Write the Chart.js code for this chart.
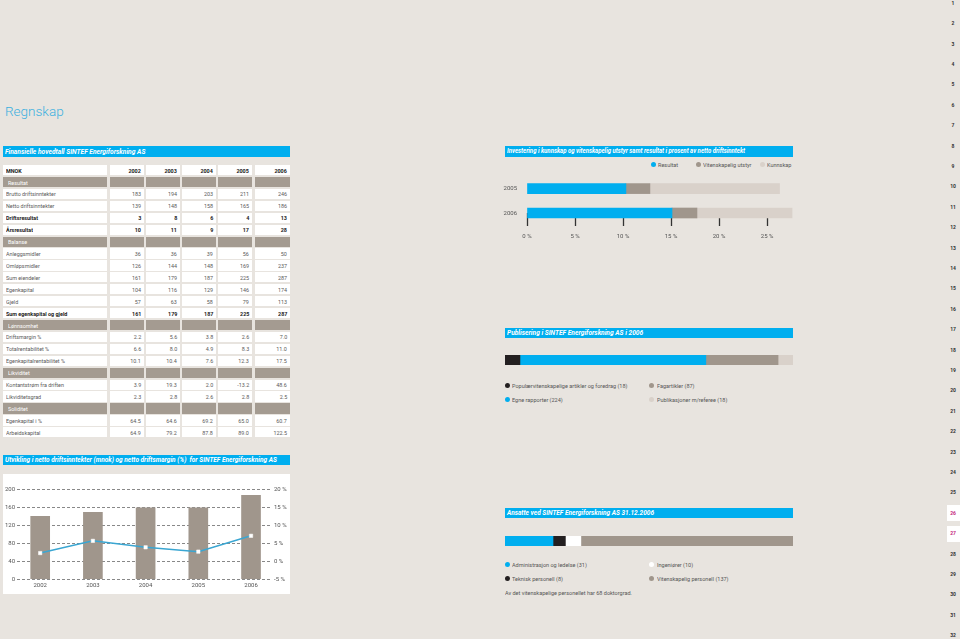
<!DOCTYPE html>
<html><head><meta charset="utf-8">
<script src="https://cdn.jsdelivr.net/npm/chart.js@4"></script>
<style>
html,body{margin:0;padding:0;background:#e8e4df;}
#page{position:relative;width:960px;height:639px;overflow:hidden;font-family:Roboto,"Open Sans",sans-serif;color:#555;background:#e8e4df;}
.abs{position:absolute;}
.t{display:inline-block;white-space:nowrap;transform-origin:left center;}
.tr{transform-origin:right center;}
.bluebar{position:absolute;background:#00aeef;color:#fff;font-style:italic;font-weight:bold;font-size:7px;box-sizing:border-box;padding-left:2px;display:flex;align-items:center;overflow:hidden;white-space:nowrap;}
.cell{position:absolute;background:#fff;font-size:6px;box-sizing:border-box;white-space:nowrap;display:flex;align-items:center;overflow:visible;color:#5a5a5a;}
.cell.sec{background:#a49b91;color:#fff;}
.cell.num{justify-content:flex-end;padding-right:3px;}
.cell.lab{padding-left:3px;}
.cell.b{color:#222;font-weight:bold;}
.leg{position:absolute;font-size:6px;color:#555;display:flex;align-items:center;white-space:nowrap;}
.dot{position:absolute;width:5px;height:5px;border-radius:50%;}
.pn{position:absolute;font-size:5px;font-weight:bold;color:#333;width:14px;text-align:center;left:946px;}
canvas{position:absolute;}
#title{position:absolute;left:5px;top:103px;font-size:13.5px;font-weight:300;color:#3ab0e0;}
</style></head>
<body><div id="page">
<div id="title">Regnskap</div>
<div class="abs" style="left:3px;top:474px;width:287px;height:120px;background:#fff;"></div>
<canvas id="c1" width="287" height="120" style="left:3px;top:474px;"></canvas>
<canvas id="c2" width="296" height="70" style="left:500px;top:175px;"></canvas>
<canvas id="c3" width="288" height="10" style="left:505px;top:355px;"></canvas>
<canvas id="c4" width="288" height="10" style="left:505px;top:535.5px;"></canvas>
</div>
<script>
// ---------- data ----------
const tableYears = ['2002','2003','2004','2005','2006'];
const resultatLabels = ['Brutto driftsinntekter','Netto driftsinntekter','Driftsresultat','Årsresultat'];
const resultatValues = [['183','194','203','211','246'],['139','148','158','165','186'],['3','8','6','4','13'],['10','11','9','17','28']];
const balanseLabels = ['Anleggsmidler','Omløpsmidler','Sum eiendeler','Egenkapital','Gjeld','Sum egenkapital og gjeld'];
const balanseValues = [['36','36','39','56','50'],['126','144','148','169','237'],['161','179','187','225','287'],['104','116','129','146','174'],['57','63','58','79','113'],['161','179','187','225','287']];
const lonnLabels = ['Driftsmargin %','Totalrentabilitet %','Egenkapitalrentabilitet %'];
const lonnValues = [['2.2','5.6','3.8','2.6','7.0'],['6.6','8.0','4.9','8.3','11.0'],['10.1','10.4','7.6','12.3','17.5']];
const likvLabels = ['Kontantstrøm fra driften','Likviditetsgrad'];
const likvValues = [['3.9','19.3','2.0','-13.2','48.6'],['2.3','2.8','2.6','2.8','2.5']];
const solLabels = ['Egenkapital i %','Arbeidskapital'];
const solValues = [['64.5','64.6','69.2','65.0','60.7'],['64.9','79.2','87.8','89.0','122.5']];
const sectionNames = ['Resultat','Balanse','Lønnsomhet','Likviditet','Soliditet'];
const boldRows = ['Driftsresultat','Årsresultat','Sum egenkapital og gjeld'];

const devYears = ['2002','2003','2004','2005','2006'];
const nettoInntekter = [139,148,158,158,186];
const driftsmargin = [2.2,5.6,3.8,2.6,7.0];

const invYears = ['2005','2006'];
const invResultat = [10.3,15.1];
const invUtstyr = [2.5,2.6];
const invKunnskap = [13.5,9.9];
const invTicks = [0,5,10,15,20,25];

const pubLabels = ['Populærvitenskapelige artikler og foredrag','Egne rapporter','Fagartikler','Publikasjoner m/referee'];
const pubValues = [18,224,87,18];
const ansLabels = ['Administrasjon og ledelse','Teknisk personell','Ingeniører','Vitenskapelig personell'];
const ansValues = [31,8,10,137];

const COL = {blue:'#00aeef', gray:'#a0968c', light:'#d9d1ca', black:'#231f20', white:'#ffffff'};
const page = document.getElementById('page');

function add(html){ page.insertAdjacentHTML('beforeend', html); }
function blueBar(x,y,w,h,text,sc){ add(`<div class="bluebar" style="left:${x}px;top:${y}px;width:${w}px;height:${h}px;"><span class="t" style="transform:scaleX(${sc})">${text}</span></div>`); }

// ---------- table ----------
blueBar(3,146,287,11,'Finansielle hovedtall SINTEF Energiforskning AS',0.95);
const colX = [[3,104],[110,34],[146,34],[182,34],[218,34],[255,35]];
const rows = [];
rows.push({type:'head', label:'MNOK', vals:tableYears});
const groups = [[resultatLabels,resultatValues],[balanseLabels,balanseValues],[lonnLabels,lonnValues],[likvLabels,likvValues],[solLabels,solValues]];
groups.forEach((g,gi)=>{
  rows.push({type:'sec', label:sectionNames[gi], vals:['','','','','']});
  g[0].forEach((l,i)=>rows.push({type: boldRows.includes(l)?'bold':'row', label:l, vals:g[1][i]}));
});
rows.forEach((r,i)=>{
  const top = 165 + i*11.92;
  const cls = r.type==='sec' ? ' sec' : ((r.type==='bold'||r.type==='head') ? ' b' : '');
  add(`<div class="cell lab${cls}" style="left:${colX[0][0]}px;top:${top}px;width:${colX[0][1]}px;height:10.2px;${r.type==='sec'?'padding-left:5px;':''}"><span class="t" style="transform:scaleX(0.9)">${r.label}</span></div>`);
  r.vals.forEach((v,j)=>{
    const c = colX[j+1];
    add(`<div class="cell num${cls}" style="left:${c[0]}px;top:${top}px;width:${c[1]}px;height:10.2px;"><span class="t tr" style="transform:scaleX(0.9)">${v}</span></div>`);
  });
});

// ---------- titles of other panels ----------
blueBar(3,455,287,10,'Utvikling i netto driftsinntekter (mnok) og netto driftsmargin (%)&nbsp; for SINTEF Energiforskning AS',0.93);
blueBar(505,146,288,10.5,'Investering i kunnskap og vitenskapelig utstyr samt resultat i prosent av netto driftsinntekt',0.86);
blueBar(505,327.5,288,10,'Publisering i SINTEF Energiforskning AS i 2006',0.945);
blueBar(505,508,288,10,'Ansatte ved SINTEF Energiforskning AS 31.12.2006',0.93);

function legend(x,y,color,text){
  add(`<div class="dot" style="left:${x-2.5}px;top:${y-2.5}px;background:${color};"></div>`);
  add(`<div class="leg" style="left:${x+5}px;top:${y-5}px;height:10px;"><span class="t" style="transform:scaleX(0.92)">${text}</span></div>`);
}
legend(653,164.5,COL.blue,'Resultat');
legend(698,164.5,COL.gray,'Vitenskapelig utstyr');
legend(762,164.5,COL.light,'Kunnskap');

const pubCols = [COL.black,COL.blue,COL.gray,COL.light];
legend(507,385,pubCols[0],pubLabels[0]+' ('+pubValues[0]+')');
legend(651.5,385,pubCols[2],pubLabels[2]+' ('+pubValues[2]+')');
legend(507,399,pubCols[1],pubLabels[1]+' ('+pubValues[1]+')');
legend(651.5,399,pubCols[3],pubLabels[3]+' ('+pubValues[3]+')');

const ansCols = [COL.blue,COL.black,COL.white,COL.gray];
legend(507,564,ansCols[0],ansLabels[0]+' ('+ansValues[0]+')');
legend(651.5,564,ansCols[2],ansLabels[2]+' ('+ansValues[2]+')');
legend(507,578.3,ansCols[1],ansLabels[1]+' ('+ansValues[1]+')');
legend(651.5,578.3,ansCols[3],ansLabels[3]+' ('+ansValues[3]+')');
add(`<div class="leg" style="left:505px;top:587.3px;height:10px;"><span class="t" style="transform:scaleX(0.92)">Av det vitenskapelige personellet har 68 doktorgrad.</span></div>`);

// ---------- page numbers ----------
for(let n=1;n<=32;n++){
  const y = 3.3 + (n-1)*20.4;
  const hl = (n===26||n===27);
  if(hl) add(`<div class="abs" style="left:947px;top:${y-8}px;width:13px;height:16px;background:#fff;"></div>`);
  add(`<div class="pn" style="top:${y-3.5}px;line-height:7px;${hl?'color:#c4267c;':''}">${n}</div>`);
}

// ---------- charts ----------
Chart.defaults.font.family = 'Roboto, "Open Sans", sans-serif';
Chart.defaults.color = '#555';
const tickFont = {size:6};

new Chart(document.getElementById('c1'), {
  type:'bar',
  data:{datasets:[
    {type:'line', data:devYears.map((y,i)=>({x:i,y:driftsmargin[i]})), yAxisID:'yR', order:0,
     borderColor:'#3aa6d2', borderWidth:1.5, pointStyle:'rect', pointRadius:2.4,
     pointBackgroundColor:'#fff', pointBorderColor:'#fff', pointBorderWidth:0.5, tension:0},
    {type:'bar', data:devYears.map((y,i)=>({x:i,y:nettoInntekter[i]})), yAxisID:'yL', order:1,
     backgroundColor:COL.gray, barThickness:19}
  ]},
  options:{
    responsive:false, animation:false, events:[],
    layout:{padding:{top:15,left:0,right:0,bottom:0}},
    plugins:{legend:{display:false}, tooltip:{enabled:false}},
    scales:{
      x:{type:'linear', min:-0.44, max:4.36, offset:false,
         afterBuildTicks:s=>{ s.ticks = devYears.map((y,i)=>({value:i})); },
         ticks:{callback:v=>devYears[v], font:tickFont, padding:3, maxRotation:0, autoSkip:false},
         grid:{display:false, drawTicks:false, offset:false}, border:{display:false},
         afterFit:s=>{ s.height = 15; }},
      yL:{position:'left', min:0, max:200,
         ticks:{stepSize:40, font:tickFont, padding:2},
         grid:{color:'#6a6a6a', lineWidth:0.8, drawTicks:false},
         border:{display:false, dash:[3,2]},
         afterFit:s=>{ s.width = 14; }},
      yR:{position:'right', min:-5, max:20,
         ticks:{stepSize:5, font:tickFont, padding:4, callback:v=>v+' %'},
         grid:{display:false, drawTicks:false}, border:{display:false},
         afterFit:s=>{ s.width = 20; }}
    }
  }
});

new Chart(document.getElementById('c2'), {
  type:'bar',
  data:{labels:invYears, datasets:[
    {label:'Resultat', data:invResultat, backgroundColor:COL.blue, clip:false},
    {label:'Vitenskapelig utstyr', data:invUtstyr, backgroundColor:COL.gray, clip:false},
    {label:'Kunnskap', data:invKunnskap, backgroundColor:COL.light, clip:false}
  ]},
  options:{
    indexAxis:'y', responsive:false, animation:false, events:[],
    datasets:{bar:{barThickness:10}},
    layout:{padding:{top:13, right:3, left:0, bottom:0}},
    plugins:{legend:{display:false}, tooltip:{enabled:false}},
    scales:{
      x:{stacked:true, min:0, max:27.7,
         afterBuildTicks:s=>{ s.ticks = invTicks.map(v=>({value:v})); },
         ticks:{callback:v=>v+' %', font:tickFont, padding:7},
         grid:{drawOnChartArea:false, drawTicks:true, tickLength:13, tickWidth:1.3, tickColor:'#333'},
         border:{display:false},
         afterFit:s=>{ s.height = 32; }},
      y:{stacked:true, offset:false,
         ticks:{font:tickFont, padding:10},
         grid:{display:false, drawTicks:false}, border:{display:false},
         afterFit:s=>{ s.width = 27; }}
    }
  }
});

function strip(id, labels, values, colors){
  const total = values.reduce((a,b)=>a+b,0);
  new Chart(document.getElementById(id), {
    type:'bar',
    data:{labels:[''], datasets:values.map((v,i)=>({label:labels[i], data:[v], backgroundColor:colors[i], barPercentage:1, categoryPercentage:1}))},
    options:{indexAxis:'y', responsive:false, animation:false, events:[],
      layout:{padding:0},
      plugins:{legend:{display:false}, tooltip:{enabled:false}},
      scales:{x:{stacked:true, display:false, min:0, max:total}, y:{stacked:true, display:false}}}
  });
}
strip('c3', pubLabels, pubValues, pubCols);
strip('c4', ansLabels, ansValues, ansCols);
</script>
</body></html>
